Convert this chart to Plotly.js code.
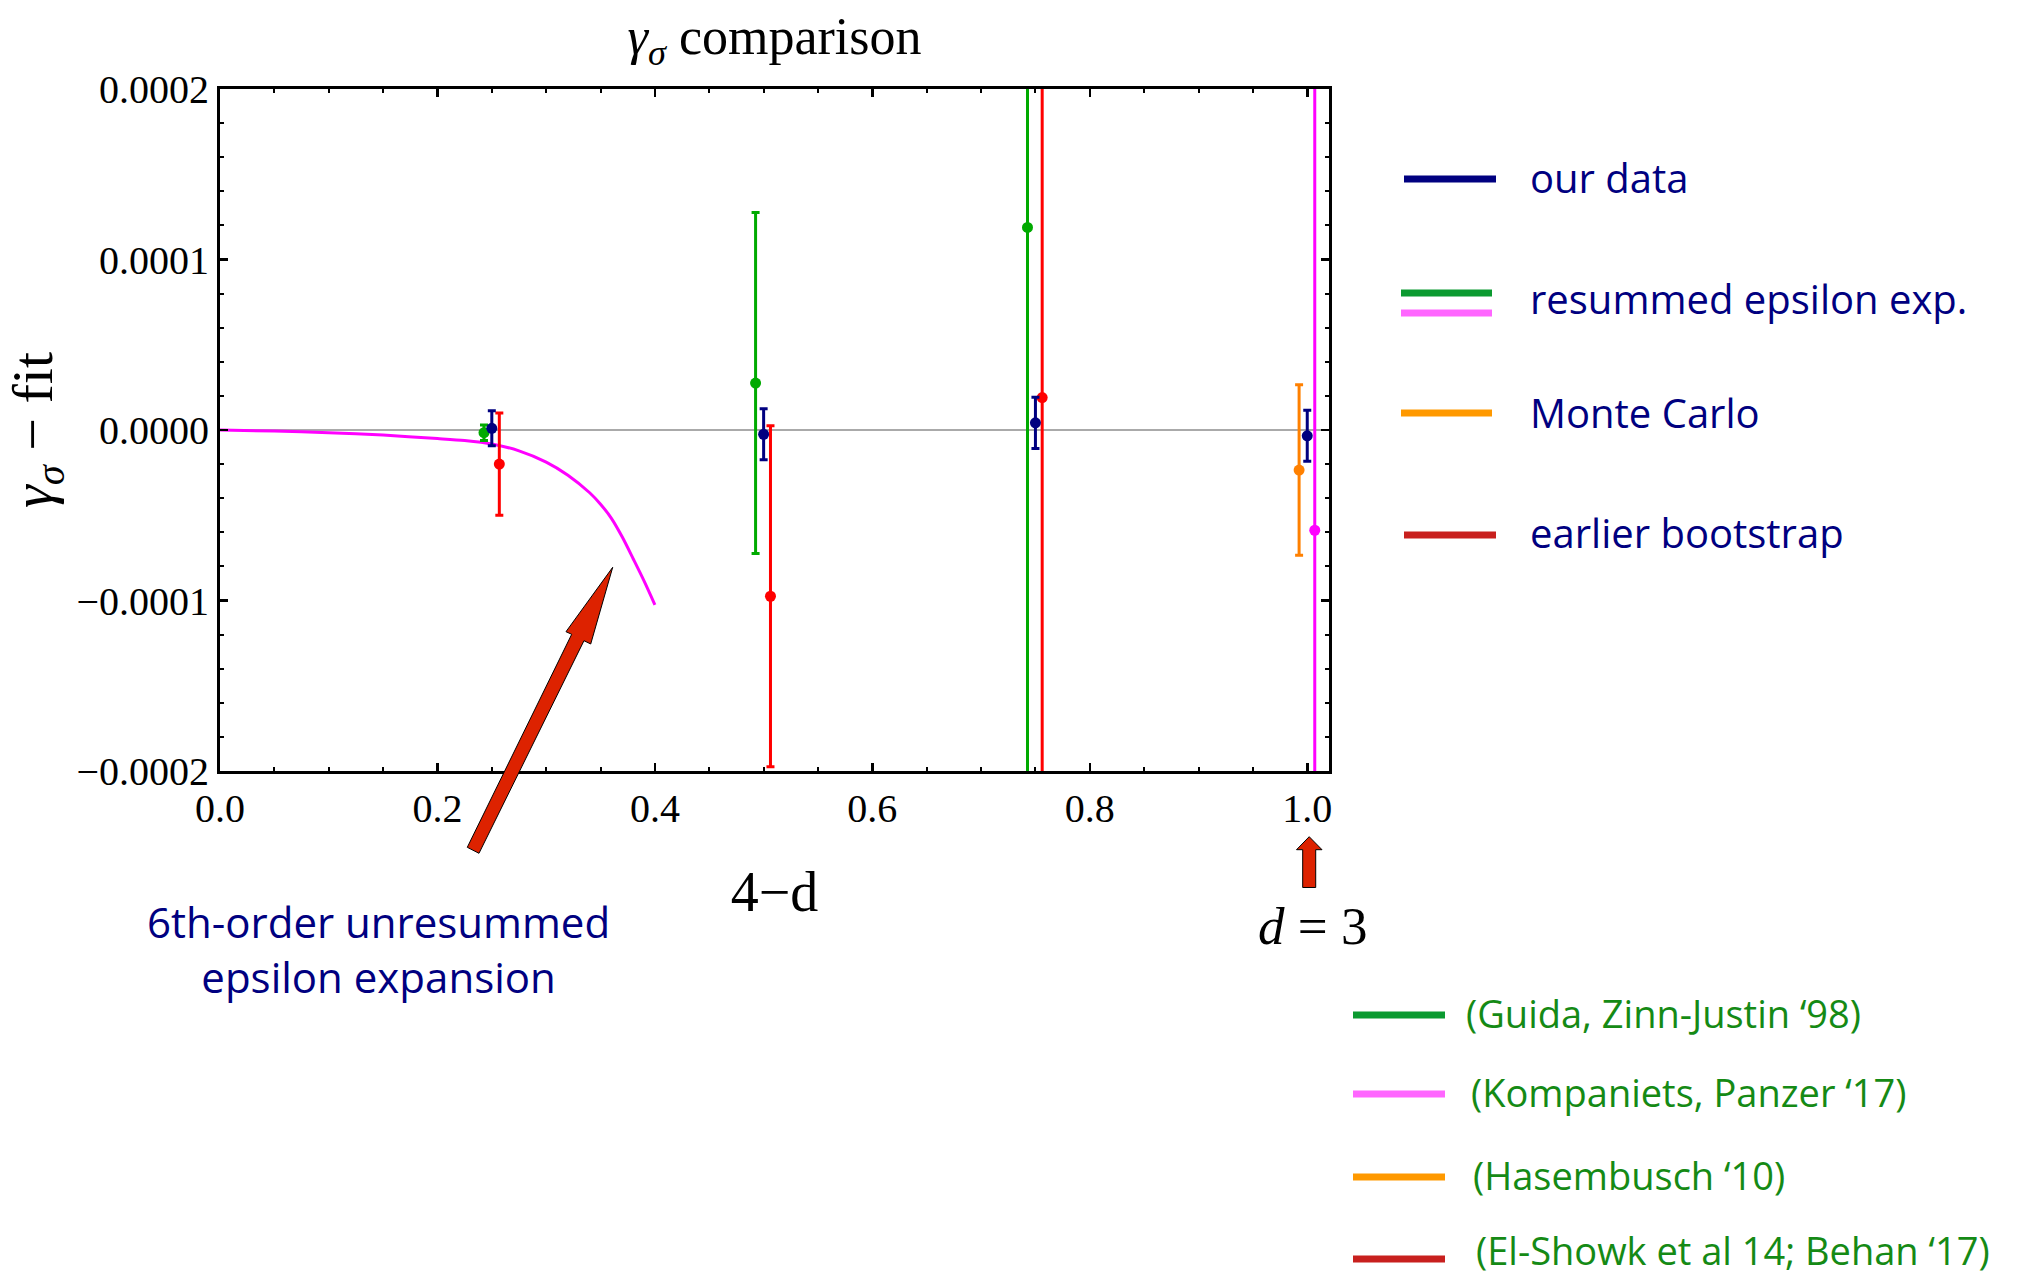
<!DOCTYPE html>
<html><head><meta charset="utf-8">
<script src="https://cdn.plot.ly/plotly-3.0.1.min.js"></script>
<style>html,body{margin:0;padding:0;background:#fff;}#chart{width:2040px;height:1278px;}</style>
</head><body><div id="chart"></div>
<script>
// ---------------- data ----------------
const ourX   = [0.25, 0.50, 0.75, 1.00];
const ourY   = [0.0000010, -0.0000025, 0.0000042, -0.0000034];
const ourErr = [0.0000103, 0.0000150, 0.0000150, 0.0000150];

const guidaX   = [0.2428, 0.4926, 0.7427];
const guidaY   = [-0.0000016, 0.0000275, 0.0001188];
const guidaErr = [0.0000045, 0.0001000, 0.0004000];

const kompX   = [1.0069];
const kompY   = [-0.0000588];
const kompErr = [0.0004000];

const hasX   = [0.9925];
const hasY   = [-0.0000235];
const hasErr = [0.0000500];

const bootX   = [0.2569, 0.5063, 0.7562];
const bootY   = [-0.0000200, -0.0000975, 0.0000190];
const bootErr = [0.0000300, 0.0001000, 0.0004000];

const epsX = [0, 0.05, 0.10, 0.15, 0.20, 0.225, 0.25, 0.275, 0.30, 0.32, 0.34, 0.35, 0.36, 0.37, 0.38, 0.39, 0.40];
const epsY = [0, -0.0000006, -0.0000016, -0.0000030, -0.0000050, -0.0000062, -0.0000082, -0.0000122,
              -0.0000188, -0.0000265, -0.0000368, -0.0000435, -0.0000518, -0.0000628, -0.0000755,
              -0.0000885, -0.0001025];

const xTickVals = [0, 0.2, 0.4, 0.6, 0.8, 1.0];
const xTickText = ['0.0', '0.2', '0.4', '0.6', '0.8', '1.0'];
const yTickVals = [-0.0002, -0.0001, 0, 0.0001, 0.0002];
const yTickText = ['\u22120.0002', '\u22120.0001', '0.0000', '0.0001', '0.0002'];

const topLegendLabels = ['our data', 'resummed epsilon exp.', 'Monte Carlo', 'earlier bootstrap'];
const refLabels = ['(Guida, Zinn-Justin \u201898)', '(Kompaniets, Panzer \u201817)', '(Hasembusch \u201810)', '(El-Showk et al 14; Behan \u201817)'];
const curveNote = '6th-order unresummed<br>epsilon expansion';

// ---------------- styling / layout helpers ----------------
const W = 2040, H = 1278;
const L = 220, R = 1329, T = 89, B = 771;
const px = x => (x - L) / (R - L);
const py = y => (B - y) / (B - T);

const NAVY = '#000080', GREEN = '#00aa00', RED = '#ff0000', ORANGE = '#ff8000', MAG = '#ff00ff';
const SERIF = 'Liberation Serif, Times New Roman, serif';
const SANS = 'Open Sans, Noto Sans, sans-serif';

function errTrace(x, y, e, color, name) {
  return {
    type: 'scatter', mode: 'markers', name: name, x: x, y: y,
    marker: {color: color, size: 11},
    error_y: {type: 'data', array: e, visible: true, color: color, thickness: 3, width: 4},
    showlegend: false, hoverinfo: 'skip'
  };
}

const traces = [
  {type: 'scatter', mode: 'lines', x: epsX, y: epsY, line: {color: MAG, width: 3, shape: 'spline', smoothing: 0.8},
   showlegend: false, hoverinfo: 'skip', name: '6th-order'},
  errTrace(guidaX, guidaY, guidaErr, GREEN, 'Guida, Zinn-Justin'),
  errTrace(kompX, kompY, kompErr, MAG, 'Kompaniets, Panzer'),
  errTrace(hasX, hasY, hasErr, ORANGE, 'Hasenbusch'),
  errTrace(bootX, bootY, bootErr, RED, 'earlier bootstrap'),
  errTrace(ourX, ourY, ourErr, NAVY, 'our data')
];

function poly(points) {
  return 'M ' + points.map(p => px(p[0]).toFixed(5) + ',' + py(p[1]).toFixed(5)).join(' L ') + ' Z';
}

const shapes = [];
const annotations = [];

// top legend
const topRows = [
  {lines: [[1404, 1496, 179, NAVY]], ty: 177},
  {lines: [[1401, 1492, 293, '#0b9a30'], [1401, 1492, 313, '#ff66ff']], ty: 298},
  {lines: [[1401, 1492, 413, '#ff9900']], ty: 412},
  {lines: [[1404, 1496, 535, '#c8201e']], ty: 532}
];
topRows.forEach((row, i) => {
  row.lines.forEach(l => shapes.push({type: 'line', xref: 'paper', yref: 'paper',
    x0: px(l[0]), x1: px(l[1]), y0: py(l[2]), y1: py(l[2]), line: {color: l[3], width: 7}}));
  annotations.push({xref: 'paper', yref: 'paper', x: px(1528), y: py(row.ty), xanchor: 'left', yanchor: 'middle',
    showarrow: false, text: topLegendLabels[i], font: {family: SANS, size: 40, color: NAVY}});
});

// bottom reference legend
const refRows = [
  {y: 1015, ty: 1013, color: '#0b9a30', tx: 1464},
  {y: 1094, ty: 1092, color: '#ff66ff', tx: 1469},
  {y: 1177, ty: 1175, color: '#ff9900', tx: 1471},
  {y: 1259, ty: 1250, color: '#c8201e', tx: 1474}
];
refRows.forEach((row, i) => {
  shapes.push({type: 'line', xref: 'paper', yref: 'paper', x0: px(1353), x1: px(1445),
    y0: py(row.y), y1: py(row.y), line: {color: row.color, width: 7}});
  annotations.push({xref: 'paper', yref: 'paper', x: px(row.tx), y: py(row.ty), xanchor: 'left', yanchor: 'middle',
    showarrow: false, text: refLabels[i], font: {family: SANS, size: 38, color: '#158a15'}});
});

// big arrow pointing to curve
shapes.push({type: 'path', xref: 'paper', yref: 'paper', layer: 'above',
  path: poly([[467.3, 847.3], [571.7, 634.3], [566, 631.7], [612.7, 567.3], [590.7, 644], [584, 640.7], [479, 853.3]]),
  fillcolor: '#dd2200', line: {color: '#000', width: 1}});
// small arrow at d = 3
shapes.push({type: 'path', xref: 'paper', yref: 'paper', layer: 'above',
  path: poly([[1302.7, 887.5], [1302.7, 849.7], [1296.5, 849.7], [1309.2, 836.7], [1322, 849.7], [1315.7, 849.7], [1315.7, 887.5]]),
  fillcolor: '#dd2200', line: {color: '#000', width: 1}});

annotations.push({xref: 'paper', yref: 'paper', x: px(378), y: py(949), xanchor: 'center', yanchor: 'middle',
  showarrow: false, text: curveNote, align: 'center', font: {family: SANS, size: 42, color: NAVY}});
annotations.push({xref: 'paper', yref: 'paper', x: px(1312), y: py(926), xanchor: 'center', yanchor: 'middle',
  showarrow: false, text: '<i>d</i> = 3', font: {family: SERIF, size: 53, color: '#000'}});

const axisCommon = {
  showline: true, linecolor: '#000', linewidth: 3, mirror: 'allticks',
  ticks: 'inside', ticklen: 8, tickwidth: 2.5, tickcolor: '#000',
  showgrid: false, tickmode: 'array',
  tickfont: {family: SERIF, size: 40, color: '#000'}
};

const layout = {
  width: W, height: H,
  margin: {l: L, r: W - R, t: T, b: H - B, pad: 0},
  paper_bgcolor: '#fff', plot_bgcolor: '#fff',
  showlegend: false,
  title: {text: '<i>γ</i><sub><i>σ</i></sub> comparison', font: {family: SERIF, size: 52, color: '#000'},
          x: 0.5, xref: 'paper', xanchor: 'center', y: 1 - 36 / H, yref: 'container', yanchor: 'middle'},
  xaxis: Object.assign({}, axisCommon, {
    range: [0, 1.02], tickvals: xTickVals, ticktext: xTickText, zeroline: false,
    ticklabelstandoff: 0,
    minor: {tickmode: 'linear', tick0: 0, dtick: 0.05, ticks: 'inside', ticklen: 4, tickwidth: 2, tickcolor: '#000'},
    title: {text: '4\u2212d', font: {family: SERIF, size: 56, color: '#000'}, standoff: 42}
  }),
  yaxis: Object.assign({}, axisCommon, {
    range: [-0.0002, 0.0002], tickvals: yTickVals, ticktext: yTickText,
    zeroline: true, zerolinecolor: '#aaaaaa', zerolinewidth: 2,
    ticklabelstandoff: 0,
    minor: {tickmode: 'linear', tick0: 0, dtick: 0.00002, ticks: 'inside', ticklen: 4, tickwidth: 2, tickcolor: '#000'},
    title: {text: '<i>γ</i><sub><i>σ</i></sub> \u2212 fit', font: {family: SERIF, size: 58, color: '#000'}, standoff: 24}
  }),
  shapes: shapes,
  annotations: annotations
};

Plotly.newPlot('chart', traces, layout, {displayModeBar: false, staticPlot: true});
</script>
</body></html>
